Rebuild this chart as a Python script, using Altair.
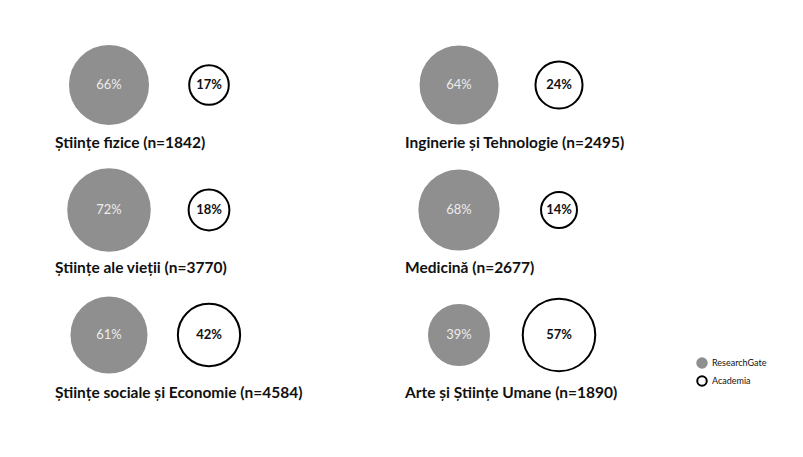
import altair as alt
import pandas as pd

fields = ["Științe fizice", "Inginerie și Tehnologie", "Științe ale vieții",
          "Medicină", "Științe sociale și Economie", "Arte și Științe Umane"]
n_resp = [1842, 2495, 3770, 2677, 4584, 1890]
researchgate = [66, 64, 72, 68, 61, 39]
academia = [17, 24, 18, 14, 42, 57]
series = ["ResearchGate", "Academia"]

labels = [f"{f} (n={n})" for f, n in zip(fields, n_resp)]
rows = []
for lab, rg, ac in zip(labels, researchgate, academia):
    rows.append({"label": lab, "series": "ResearchGate", "pct": rg, "txt": f"{rg}%"})
    rows.append({"label": lab, "series": "Academia", "pct": ac, "txt": f"{ac}%"})
df = pd.DataFrame(rows)

FONT = "Lato"

x = alt.X("series:N", scale=alt.Scale(type="point", domain=series, padding=1.0306, align=0.27),
          axis=None)

circles = alt.Chart().mark_circle(opacity=1, strokeWidth=2).encode(
    x=x,
    size=alt.Size("pct:Q", scale=alt.Scale(domain=[0, 100], range=[0, 9230]), legend=None),
    fill=alt.Fill("series:N", scale=alt.Scale(domain=series, range=["#8f8f8f", "#ffffff"]),
                  legend=alt.Legend(title=None)),
    stroke=alt.Stroke("series:N", scale=alt.Scale(domain=series, range=["#8f8f8f", "#000000"]),
                      legend=alt.Legend(title=None)),
)

txt_rg = alt.Chart().transform_filter("datum.series == 'ResearchGate'").mark_text(
    font=FONT, fontSize=13, color="#ececec", fontWeight="normal"
).encode(x=x, text="txt:N")

txt_ac = alt.Chart().transform_filter("datum.series == 'Academia'").mark_text(
    font=FONT, fontSize=13, color="#111111", fontWeight="bold"
).encode(x=x, text="txt:N")

chart = alt.layer(circles, txt_rg, txt_ac, data=df).properties(
    width=300, height=100
).facet(
    facet=alt.Facet("label:N", sort=labels,
                    header=alt.Header(title=None, labelOrient="bottom", labelAnchor="start",
                                      labelFont=FONT, labelFontSize=15.5, labelFontWeight="bold",
                                      labelColor="#111111", labelPadding=1)),
    columns=2,
    spacing={"row": 8, "column": 50},
).properties(
    padding={"left": 47, "top": 27, "right": 5, "bottom": 5}
).configure_view(stroke=None).configure_legend(
    orient="none", legendX=641, legendY=322, labelFont=FONT, labelFontSize=9,
    labelColor="#111111", symbolSize=90, symbolStrokeWidth=2, rowPadding=0
)

chart.save("out.html", embed_options={"renderer": "svg", "actions": False})
